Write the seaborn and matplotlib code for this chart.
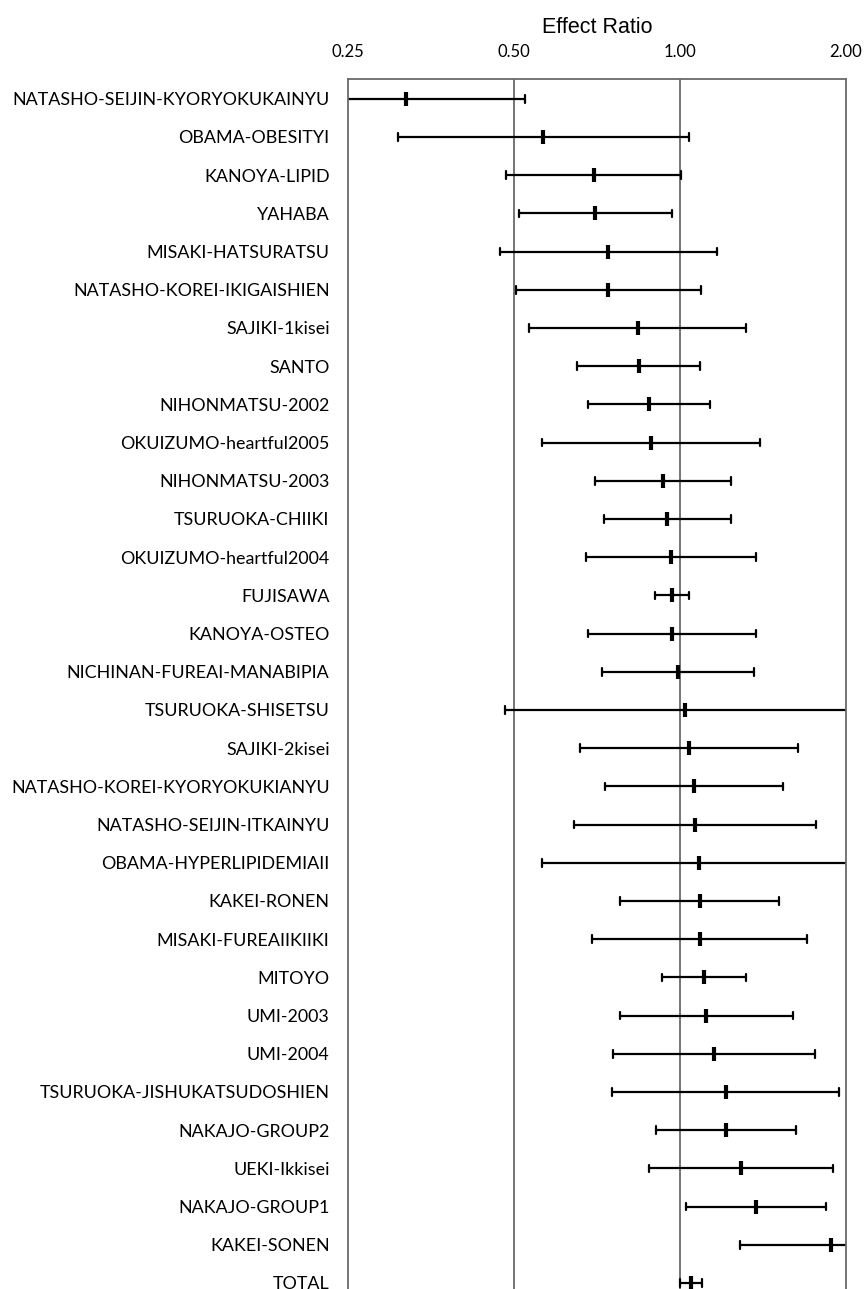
import numpy as np
import pandas as pd
import matplotlib
matplotlib.use("Agg")
import matplotlib.pyplot as plt
from matplotlib.ticker import NullLocator
import seaborn as sns

studies = [
    "NATASHO-SEIJIN-KYORYOKUKAINYU", "OBAMA-OBESITYI", "KANOYA-LIPID", "YAHABA",
    "MISAKI-HATSURATSU", "NATASHO-KOREI-IKIGAISHIEN", "SAJIKI-1kisei", "SANTO",
    "NIHONMATSU-2002", "OKUIZUMO-heartful2005", "NIHONMATSU-2003", "TSURUOKA-CHIIKI",
    "OKUIZUMO-heartful2004", "FUJISAWA", "KANOYA-OSTEO", "NICHINAN-FUREAI-MANABIPIA",
    "TSURUOKA-SHISETSU", "SAJIKI-2kisei", "NATASHO-KOREI-KYORYOKUKIANYU",
    "NATASHO-SEIJIN-ITKAINYU", "OBAMA-HYPERLIPIDEMIAII", "KAKEI-RONEN",
    "MISAKI-FUREAIIKIIKI", "MITOYO", "UMI-2003", "UMI-2004",
    "TSURUOKA-JISHUKATSUDOSHIEN", "NAKAJO-GROUP2", "UEKI-Ikkisei", "NAKAJO-GROUP1",
    "KAKEI-SONEN", "TOTAL",
]
lower = [0.20, 0.308, 0.483, 0.510, 0.471, 0.504, 0.533, 0.649, 0.681, 0.561, 0.702, 0.727,
         0.674, 0.902, 0.681, 0.722, 0.482, 0.659, 0.731, 0.643, 0.562, 0.780, 0.692, 0.927,
         0.777, 0.755, 0.754, 0.906, 0.877, 1.024, 1.285, 1.002]
point = [0.318, 0.565, 0.697, 0.702, 0.741, 0.741, 0.838, 0.841, 0.878, 0.886, 0.930, 0.946,
         0.963, 0.967, 0.967, 0.993, 1.023, 1.038, 1.060, 1.063, 1.081, 1.086, 1.086, 1.107,
         1.117, 1.155, 1.212, 1.212, 1.289, 1.374, 1.883, 1.049]
upper = [0.523, 1.037, 1.004, 0.969, 1.166, 1.092, 1.318, 1.089, 1.132, 1.397, 1.238, 1.236,
         1.372, 1.037, 1.374, 1.365, 2.40, 1.636, 1.538, 1.763, 2.40, 1.513, 1.699, 1.316,
         1.607, 1.761, 1.941, 1.627, 1.896, 1.841, 2.30, 1.095]
tick_values = [0.25, 0.5, 1.0, 2.0]
tick_labels = ["0.25", "0.50", "1.00", "2.00"]

sns.set_theme(style="white")
plt.rcParams['font.family'] = ['Lato', 'DejaVu Sans']

df = pd.DataFrame({
    "study": np.repeat(studies, 3),
    "ratio": np.column_stack([lower, point, upper]).ravel(),
})

fig = plt.figure(figsize=(8.66, 12.89), dpi=100)
ax = fig.add_axes([0.4022, -0.0101, 0.5744, 0.9486])
ax.set_xscale('log', base=2)

for v in (0.5, 1.0):
    ax.axvline(v, color='#6a6a6a', lw=1.3, zorder=0)

sns.pointplot(data=df, x="ratio", y="study", order=studies, estimator="median",
              errorbar=("pi", 100), orient="h", color="black", linestyle="none",
              markers="|", markersize=10.5, markeredgewidth=3.0, capsize=0.2,
              err_kws={"linewidth": 1.6}, ax=ax)

ax.set_xlim(0.25, 2.0)
ax.set_ylim(31.5, -0.51)
ax.xaxis.tick_top()
ax.xaxis.set_label_position('top')
ax.set_xticks(tick_values)
ax.set_xticklabels(tick_labels)
ax.xaxis.set_minor_locator(NullLocator())
ax.tick_params(axis='x', length=0, pad=14, labelsize=12, labelcolor='black')
ax.tick_params(axis='y', length=0, pad=13.5, labelsize=12.9, labelcolor='black')
ax.set_ylabel('')
ax.set_xlabel('Effect Ratio', fontfamily=['Liberation Sans', 'DejaVu Sans'], fontsize=15.5,
              labelpad=8, color='black')
for s in ax.spines.values():
    s.set_color('#6a6a6a')
    s.set_linewidth(1.3)

fig.savefig("out.png", dpi=100)
